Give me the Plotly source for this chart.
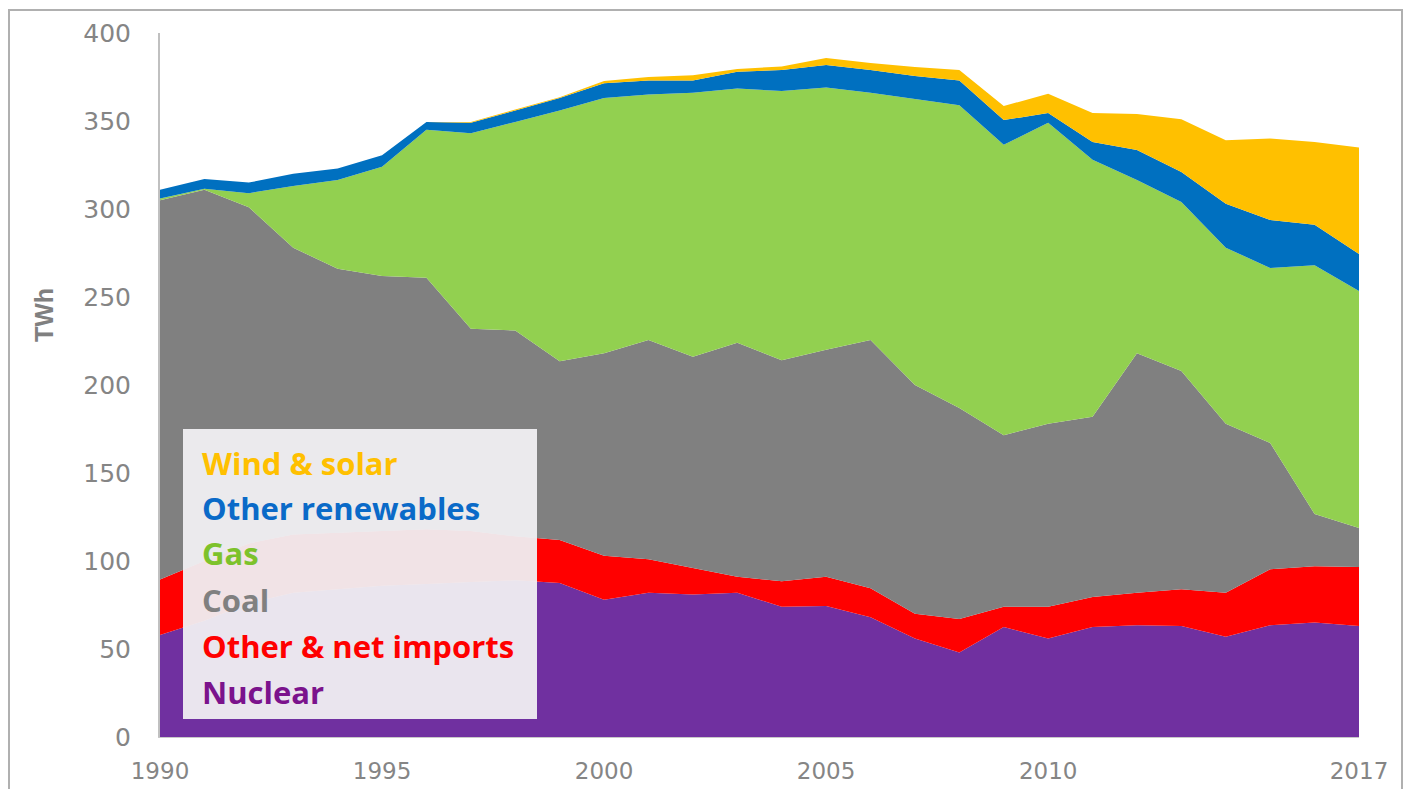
import plotly.graph_objects as go

years = list(range(1990, 2018))

nuclear = [58, 66, 76, 82, 84, 86, 87, 88, 89, 87.5, 78, 82, 81, 82, 74, 74.5, 68, 56, 48, 62.5,
           56, 62.5, 63.5, 63, 57, 63.5, 65, 63]
other_imports = [31.5, 34, 34, 33, 32, 31, 31, 29, 25, 24.5, 25, 19, 15, 9, 14.5, 16.5, 16.5, 14, 19, 11.5,
                 18, 17, 18.5, 21, 25, 31.8, 32, 33.6]
coal = [215.5, 211, 191, 163, 150, 145, 143, 115, 117, 101.5, 115, 124.5, 120, 133, 125.5, 129, 141, 130, 120, 97.5,
        104, 102.5, 136, 124, 96, 71.7, 29.7, 22.2]
gas = [1, 0.5, 8, 35, 50.5, 62, 84, 111, 118.5, 142.5, 145, 139.5, 150, 144.5, 153, 149, 140.5, 162.5, 172, 165,
       171, 146, 98.5, 96, 100, 99.5, 141.3, 134.6]
other_renewables = [5, 5.5, 6, 7, 6.5, 6.5, 4.5, 6, 6.5, 7, 8.5, 8, 7, 9.5, 12, 12.8, 13, 13, 14, 14,
                    5.5, 10, 17, 17, 25, 27.3, 23, 21]
wind_solar = [0, 0, 0, 0, 0, 0, 0, 0.5, 0.5, 0.5, 1.2, 2, 3, 1.5, 2, 4, 4, 5.2, 6, 8,
              11, 16.5, 20.5, 30, 36, 46.2, 47, 60.6]

series_names = ["Nuclear", "Other & net imports", "Coal", "Gas", "Other renewables", "Wind & solar"]
series_values = [nuclear, other_imports, coal, gas, other_renewables, wind_solar]
series_colors = ["#7030A0", "#FF0000", "#808080", "#92D050", "#0070C0", "#FFC000"]
legend_text_colors = ["#7B138C", "#FF0000", "#808080", "#7DC22B", "#0A6AC8", "#FFC000"]

x_tick_vals = [1990, 1995, 2000, 2005, 2010, 2017]
y_tick_vals = [0, 50, 100, 150, 200, 250, 300, 350, 400]

fig = go.Figure()
for name, vals, col in zip(series_names, series_values, series_colors):
    fig.add_trace(go.Scatter(
        x=years, y=vals, name=name, stackgroup="one", mode="none",
        fillcolor=col, line=dict(width=0), showlegend=False,
    ))

OFF = 8  # page body margin
PW, PH = 1199, 704
L, T = 160 - OFF, 33 - OFF
W, H = 1412 - 2 * OFF, 797 - 2 * OFF
R, B = W - L - PW, H - T - PH

def px_x(x):
    return (x - 160) / PW

def px_y(y):
    return (737 - y) / PH

fig.update_layout(
    width=W, height=H,
    margin=dict(l=L, r=R, t=T, b=B, autoexpand=False),
    paper_bgcolor="white", plot_bgcolor="white",
    font=dict(family="DejaVu Sans, sans-serif", color="#808080"),
    xaxis=dict(
        range=[1990, 2017], tickmode="array", tickvals=x_tick_vals,
        ticktext=[str(v) for v in x_tick_vals], automargin=False,
        showgrid=False, zeroline=False, showline=True, linecolor="#C8C8C8", linewidth=1,
        ticks="", ticklabelstandoff=13, tickfont=dict(family="DejaVu Sans, sans-serif", size=23, color="#858585"),
    ),
    yaxis=dict(
        range=[0, 400], tickmode="array", tickvals=y_tick_vals, automargin=False,
        showgrid=False, zeroline=False, showline=True, linecolor="#C0C0C0", linewidth=2,
        ticks="", ticklabelstandoff=22, tickfont=dict(family="DejaVu Sans, sans-serif", size=25, color="#858585"),
    ),
)

# outer frame
fig.add_shape(type="rect", xref="paper", yref="paper",
              x0=px_x(9), x1=px_x(1402), y0=px_y(830), y1=px_y(10),
              line=dict(color="#B0B0B0", width=2), fillcolor="rgba(0,0,0,0)", layer="below")

# legend box
fig.add_shape(type="rect", xref="paper", yref="paper",
              x0=px_x(183), x1=px_x(537), y0=px_y(719), y1=px_y(429),
              line=dict(width=0), fillcolor="rgba(240,239,242,0.95)", layer="above")

legend_y_px = [692, 646, 600, 553, 508, 463]
for name, col, ypx in zip(series_names, legend_text_colors, legend_y_px):
    fig.add_annotation(
        xref="paper", yref="paper", x=px_x(200), y=px_y(ypx),
        xanchor="left", yanchor="middle", showarrow=False, text="<b>%s</b>" % name,
        font=dict(family="Open Sans, Noto Sans, sans-serif", size=31, color=col),
    )

# y axis title
fig.add_annotation(
    xref="paper", yref="paper", x=px_x(44), y=px_y(315),
    xanchor="center", yanchor="middle", showarrow=False, textangle=-90,
    text="<b>TWh</b>", font=dict(family="Liberation Sans, Arial, sans-serif", size=25, color="#808080"),
)

fig.write_html("out.html")
